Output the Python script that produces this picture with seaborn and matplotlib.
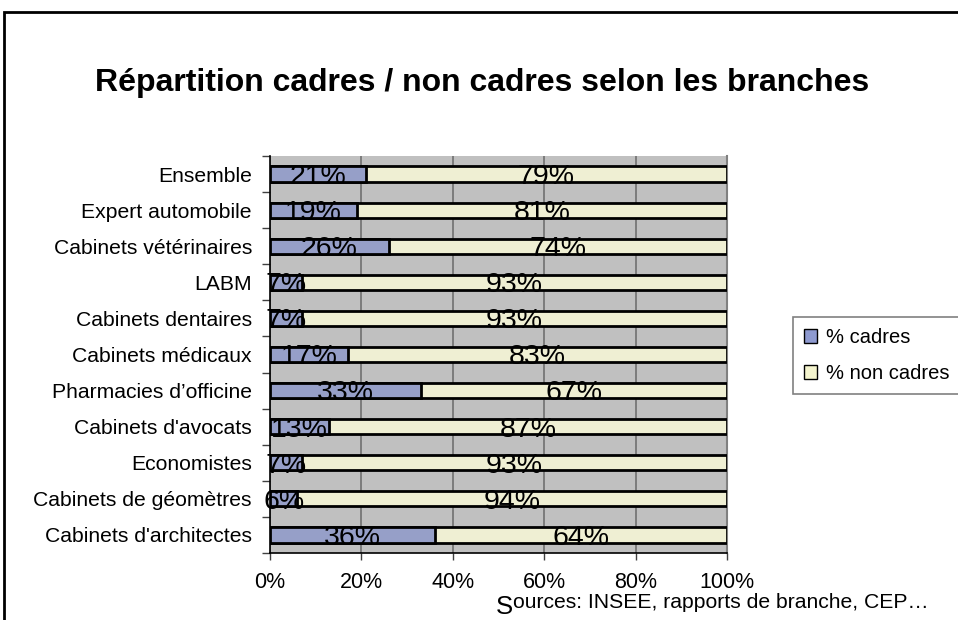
import matplotlib
matplotlib.use("Agg")
import matplotlib.pyplot as plt
import seaborn as sns
import pandas as pd
from matplotlib.patches import Patch, Rectangle
from matplotlib.ticker import FixedLocator

branches = ["Ensemble", "Expert automobile", "Cabinets vétérinaires", "LABM",
            "Cabinets dentaires", "Cabinets médicaux", "Pharmacies d’officine",
            "Cabinets d'avocats", "Economistes", "Cabinets de géomètres",
            "Cabinets d'architectes"]
cadres = [21, 19, 26, 7, 7, 17, 33, 13, 7, 6, 36]
non_cadres = [79, 81, 74, 93, 93, 83, 67, 87, 93, 94, 64]
x_ticks = [0, 20, 40, 60, 80, 100]

df = pd.DataFrame({"branche": branches, "cadres": cadres, "non_cadres": non_cadres})
df["total"] = df["cadres"] + df["non_cadres"]

sns.set_style("white")
plt.rcParams['font.family'] = ['Liberation Sans', 'DejaVu Sans']
plt.rcParams['text.color'] = 'black'
plt.rcParams['xtick.color'] = 'black'
plt.rcParams['ytick.color'] = 'black'

blue = "#8E9AD0"
yellow = "#F4F4CE"

fig = plt.figure(figsize=(9.58, 6.2), dpi=100)
ax = fig.add_axes([270 / 958, 1 - 553 / 620, 457 / 958, 397 / 620])
ax.set_facecolor("#C0C0C0")

sns.barplot(data=df, x="total", y="branche", color=yellow, width=0.42,
            edgecolor="black", linewidth=2, orient="h", ax=ax, zorder=3)
sns.barplot(data=df, x="cadres", y="branche", color=blue, width=0.42,
            edgecolor="black", linewidth=2, orient="h", ax=ax, zorder=4)

# labels centred on each segment
for i, row in df.iterrows():
    ax.text(row["cadres"] / 2, i + 0.08, f"{row['cadres']}%", ha="center", va="center",
            fontsize=20.5, zorder=5)
    ax.text(row["cadres"] + row["non_cadres"] / 2, i + 0.08, f"{row['non_cadres']}%",
            ha="center", va="center", fontsize=20.5, zorder=5)

ax.set_xlim(0, 100)
ax.set_ylim(10.5, -0.5)
ax.set_xticks(x_ticks)
ax.set_xticklabels([f"{t}%" for t in x_ticks], fontsize=15.5)
ax.xaxis.grid(True, color="#707070", linewidth=1.2, zorder=0)
ax.set_axisbelow(True)
ax.set_xlabel("")
ax.set_ylabel("")
ax.tick_params(axis="y", which="major", length=0, labelsize=15.2, pad=13)
ax.yaxis.set_minor_locator(FixedLocator([i + 0.5 for i in range(-1, 11)]))
ax.tick_params(axis="y", which="minor", length=6, width=1, color="#404040", left=True)
ax.tick_params(axis="x", which="major", length=5, width=1, color="#404040", bottom=True, pad=9)

ax.spines["top"].set_visible(False)
ax.spines["left"].set_color("black")
ax.spines["left"].set_linewidth(1.2)
ax.spines["bottom"].set_color("black")
ax.spines["bottom"].set_linewidth(1.2)
ax.spines["right"].set_color("#808080")
ax.spines["right"].set_linewidth(1.5)

fig.text((95 + 869) / 2 / 958, 1 - 83 / 620, "Répartition cadres / non cadres selon les branches",
         ha="center", va="center", fontsize=23, fontweight="bold")

fig.text(496 / 958, 1 - 607 / 620, "S", fontsize=18.5, ha="left", va="center")
fig.text(513 / 958, 1 - 603 / 620, "ources: INSEE, rapports de branche, CEP…",
         fontsize=15.2, ha="left", va="center")

handles = [Patch(facecolor=blue, edgecolor="black", label="% cadres"),
           Patch(facecolor=yellow, edgecolor="black", label="% non cadres")]
leg = fig.legend(handles=handles, loc="upper left", bbox_to_anchor=(793 / 958, 1 - 317 / 620),
                 fontsize=14.5, frameon=True, fancybox=False, handlelength=0.65, handleheight=0.65,
                 handletextpad=0.45, borderpad=0.55, labelspacing=0.85, borderaxespad=0)
leg.get_frame().set_edgecolor("#606060")
leg.get_frame().set_linewidth(1.2)

# outer chart frame (left and top edges visible)
fig.patches.append(Rectangle((4 / 958, -0.1), 1.2, 1 - 12 / 620 + 0.1, transform=fig.transFigure,
                             fill=False, edgecolor="black", linewidth=2))

fig.savefig("out.png", dpi=100)
